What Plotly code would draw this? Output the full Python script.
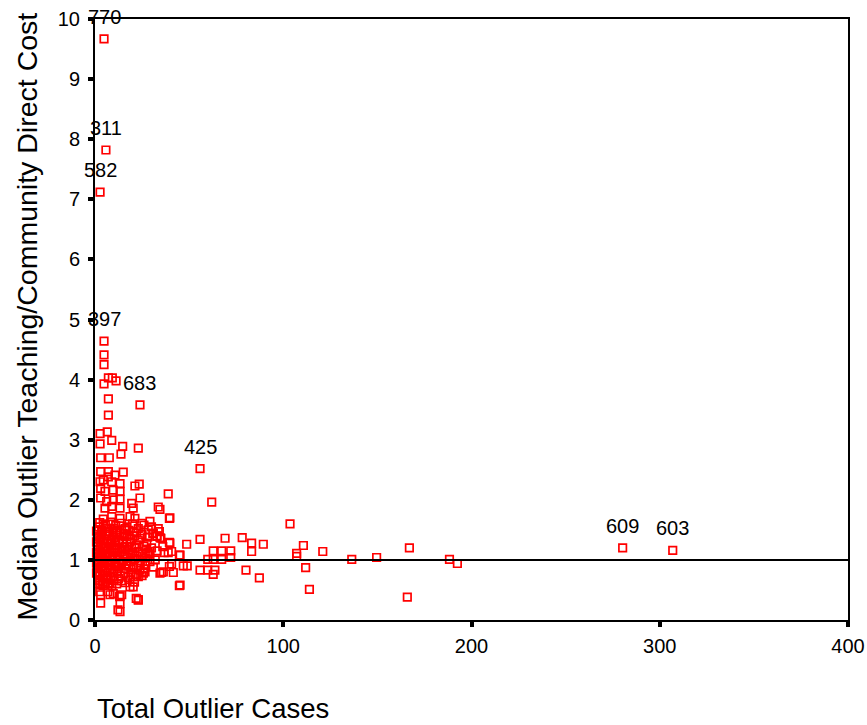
import plotly.graph_objects as go

# ---- data ----
cases = [
    # upper column and 2-3 band
    4.8, 4.8, 7.1, 9.2, 11.2, 4.8, 7.1, 7.1,
    2.7, 6.5, 8.9, 2.7, 14.7, 23.0, 13.8, 3.0, 7.6,
    3.0, 7.1, 10.6, 15.0, 4.4, 7.1, 8.9, 13.3, 21.2, 23.5, 2.7,
    3.0, 5.3, 9.7, 13.3, 3.0, 6.2, 9.7, 13.3, 23.9, 38.9,
    5.3, 8.9, 13.3, 19.5, 20.3, 33.6, 34.5, 39.5, 62.0,
    4.4, 8.9, 13.3, 18.6, 21.2, 24.8, 29.2, 28.3, 33.6, 34.5,
    3.5, 7.1, 11.5, 15.9, 20.3, 23.0,
    2.7, 7.1, 10.6, 15.0, 18.6, 23.0, 27.5, 39.5, 48.7,
    # dense core
    2.5, 5.5, 8.5, 11.0, 14.0, 17.0, 20.0, 26.0, 30.0,
    1.5, 4.0, 6.5, 9.5, 12.0, 15.0, 18.0, 22.0, 25.0, 31.0, 33.0,
    2.0, 3.5, 5.0, 7.5, 10.0, 13.0, 16.0, 19.0, 21.0, 24.0, 28.0, 35.0,
    1.0, 3.0, 4.5, 6.0, 8.0, 10.5, 12.5, 14.5, 17.0, 19.5, 22.0, 26.0, 30.0, 36.0,
    1.5, 2.5, 4.0, 5.5, 7.0, 9.0, 11.0, 12.0, 14.0, 16.0, 18.0, 20.0, 23.0, 25.0, 28.0, 33.0,
    1.0, 2.0, 3.5, 5.0, 6.5, 8.0, 9.5, 11.0, 13.0, 15.0, 17.0, 19.0, 21.0, 24.0, 27.0, 32.0,
    1.5, 3.0, 4.5, 6.0, 7.5, 9.0, 10.5, 12.5, 14.0, 16.0, 18.0, 20.5, 23.0, 26.0, 31.0,
    1.0, 2.5, 4.0, 5.5, 7.0, 8.5, 10.0, 12.0, 13.5, 15.5, 17.5, 19.0, 22.0, 25.0,
    2.0, 4.0, 6.0, 8.0, 10.0, 11.5, 14.0, 16.0, 18.5, 21.0,
    2.0, 4.5, 7.0, 10.0, 13.0, 16.0, 3.0, 6.0, 9.0, 11.5, 15.0, 18.0,
    1.5, 5.0, 8.0, 10.0, 13.0, 16.0, 21.0, 3.0, 6.0, 9.0, 12.0, 15.0, 19.0, 22.0,
    2.5, 5.0, 8.0, 11.0, 14.0, 17.0, 4.0, 7.0, 10.0, 12.5, 3.0, 5.5, 9.0,
    0.8, 0.8, 0.8, 0.8, 0.8, 1.2, 1.2, 1.2,
    # low points
    2.5, 6.9, 2.5, 6.9, 13.1, 12.2, 2.5, 21.9, 3.0, 3.0, 8.0, 4.4,
    13.3, 13.3, 13.3, 20.3, 23.0, 9.7, 14.2, 18.6,
    # mid-range cases
    103.6, 39.8, 55.8, 69.1, 78.2, 83.2, 89.4, 39.8, 62.8, 67.3, 72.1, 83.2,
    40.7, 44.8, 62.8, 67.3, 72.1, 59.9, 107.1, 107.1, 110.7, 121.0, 111.9, 113.9,
    40.7, 46.9, 49.0, 55.8, 59.9, 63.7, 62.8, 80.2, 87.3, 44.8, 136.4, 149.6,
    167.0, 165.9, 188.3, 192.5, 38.9, 45.2, 29.2, 29.2, 25.7, 34.5, 36.3, 39.5,
    36.7, 28.7, 32.8, 34.2, 30.7, 35.4, 41.6, 26.6, 26.6, 45.2, 23.0, 20.3,
    21.2, 23.9, 20.3, 23.0, 24.0, 27.0,
]
cost = [
    4.41, 4.25, 4.03, 4.03, 3.98, 3.93, 3.68, 3.41,
    3.10, 3.13, 2.99, 2.93, 2.89, 2.86, 2.76, 2.70, 2.70,
    2.47, 2.47, 2.41, 2.46, 2.33, 2.38, 2.30, 2.27, 2.23, 2.26, 2.30,
    2.19, 2.14, 2.16, 2.14, 2.03, 1.97, 2.00, 2.01, 2.03, 2.10,
    1.86, 1.89, 1.86, 1.94, 1.86, 1.88, 1.84, 1.69, 1.96,
    1.68, 1.72, 1.69, 1.72, 1.69, 1.61, 1.64, 1.50, 1.52, 1.37,
    1.50, 1.47, 1.47, 1.50, 1.47, 1.52,
    1.33, 1.28, 1.30, 1.28, 1.30, 1.33, 1.28, 1.29, 1.26,
    1.62, 1.58, 1.63, 1.57, 1.61, 1.55, 1.60, 1.58, 1.55,
    1.50, 1.47, 1.52, 1.45, 1.50, 1.44, 1.49, 1.45, 1.42, 1.44, 1.40,
    1.38, 1.42, 1.35, 1.40, 1.37, 1.33, 1.39, 1.35, 1.40, 1.36, 1.38, 1.36,
    1.28, 1.25, 1.31, 1.22, 1.27, 1.24, 1.30, 1.21, 1.26, 1.22, 1.25, 1.23, 1.20, 1.22,
    1.17, 1.12, 1.15, 1.10, 1.18, 1.13, 1.16, 1.08, 1.14, 1.10, 1.17, 1.12, 1.14, 1.09, 1.12, 1.15,
    1.04, 0.98, 1.02, 0.97, 1.05, 0.99, 1.03, 0.96, 1.01, 0.98, 1.04, 0.97, 1.02, 0.99, 1.03, 1.00,
    0.92, 0.88, 0.94, 0.87, 0.91, 0.85, 0.93, 0.88, 0.92, 0.86, 0.90, 0.87, 0.91, 0.85, 0.88,
    0.80, 0.76, 0.82, 0.74, 0.79, 0.72, 0.78, 0.81, 0.73, 0.77, 0.71, 0.79, 0.76, 0.74,
    0.66, 0.63, 0.68, 0.62, 0.66, 0.60, 0.65, 0.62, 0.67, 0.63,
    1.55, 1.60, 1.46, 1.53, 1.45, 1.52, 1.33, 1.43, 1.32, 1.41, 1.30, 1.41,
    1.22, 1.20, 1.12, 1.20, 1.18, 1.22, 1.20, 1.07, 1.08, 1.07, 1.12, 1.06, 1.08, 1.06,
    0.95, 0.90, 0.95, 0.90, 0.96, 0.93, 0.72, 0.70, 0.72, 0.69, 0.58, 0.60, 0.57,
    1.48, 1.30, 1.12, 0.95, 0.78, 1.40, 1.05, 0.85,
    0.61, 0.61, 0.47, 0.47, 0.39, 0.17, 0.75, 0.36, 0.42, 0.28, 0.42, 0.57,
    0.40, 0.27, 0.14, 0.55, 0.33, 0.44, 0.42, 0.55,
    1.60, 1.70, 1.34, 1.36, 1.37, 1.28, 1.26, 1.28, 1.15, 1.15, 1.15, 1.14,
    1.14, 1.08, 1.01, 1.01, 1.04, 1.01, 1.11, 1.06, 1.24, 1.14, 0.87, 0.51,
    0.93, 0.90, 0.90, 0.83, 0.83, 0.83, 0.76, 0.83, 0.70, 0.57, 1.01, 1.04,
    1.20, 0.38, 1.01, 0.94, 1.12, 1.08, 1.14, 0.97, 0.78, 0.78, 0.80, 0.89,
    1.12, 1.10, 1.39, 1.47, 1.44, 0.79, 0.79, 0.80, 0.92, 0.58, 0.34, 0.72,
    1.20, 0.83, 0.89, 0.72, 0.95, 1.18,
]

# labelled outliers
label_ids = ["770", "311", "582", "397", "683", "425", "609", "603"]
label_cases = [4.8, 5.8, 2.7, 4.8, 23.9, 55.8, 280.3, 306.9]
label_cost = [9.67, 7.82, 7.12, 4.64, 3.58, 2.52, 1.20, 1.16]

x_ticks = [0, 100, 200, 300, 400]
y_ticks = [0, 1, 2, 3, 4, 5, 6, 7, 8, 9, 10]
reference_level = 1

FONT = "'Liberation Sans', Arial, sans-serif"
marker_style = dict(symbol="square-open", size=7.5, color="#ff0000",
                    line=dict(color="#ff0000", width=1.7))

fig = go.Figure()
fig.add_trace(go.Scatter(x=cases + label_cases, y=cost + label_cost,
                         mode="markers", marker=marker_style,
                         cliponaxis=False, showlegend=False))

for lid, lx, ly in zip(label_ids, label_cases, label_cost):
    fig.add_annotation(x=lx, y=ly, text=lid, showarrow=False,
                       xanchor="center", yanchor="bottom", yshift=9,
                       font=dict(family=FONT, size=20, color="black"))

fig.add_shape(type="line", xref="x", yref="y", x0=x_ticks[0], x1=x_ticks[-1],
              y0=reference_level, y1=reference_level,
              line=dict(color="black", width=2))

axis_common = dict(showgrid=False, zeroline=False, showline=True, mirror=True,
                   automargin=False,
                   linecolor="black", linewidth=2, ticks="outside", ticklen=5,
                   tickwidth=4, tickcolor="black",
                   tickfont=dict(family=FONT, size=20, color="black"))

fig.update_xaxes(range=[0, 400], tickvals=x_ticks, ticklabelstandoff=2,
                 **axis_common)
fig.update_yaxes(range=[0, 10], tickvals=y_ticks, ticklabelstandoff=4,
                 **axis_common)

fig.add_annotation(xref="paper", yref="paper", x=0, y=-0.148,
                   text="Total Outlier Cases", showarrow=False,
                   xanchor="left", yanchor="middle",
                   font=dict(family=FONT, size=27.5, color="black"))
fig.add_annotation(xref="paper", yref="paper", x=-0.089, y=0.505,
                   text="Median Outlier Teaching/Community Direct Cost",
                   textangle=-90, showarrow=False,
                   xanchor="center", yanchor="middle",
                   font=dict(family=FONT, size=28.5, color="black"))

fig.update_layout(template="none", width=867, height=725,
                  margin=dict(l=95, r=19, t=19, b=105),
                  plot_bgcolor="white", paper_bgcolor="white",
                  font=dict(family=FONT))

fig.write_html("out.html")
